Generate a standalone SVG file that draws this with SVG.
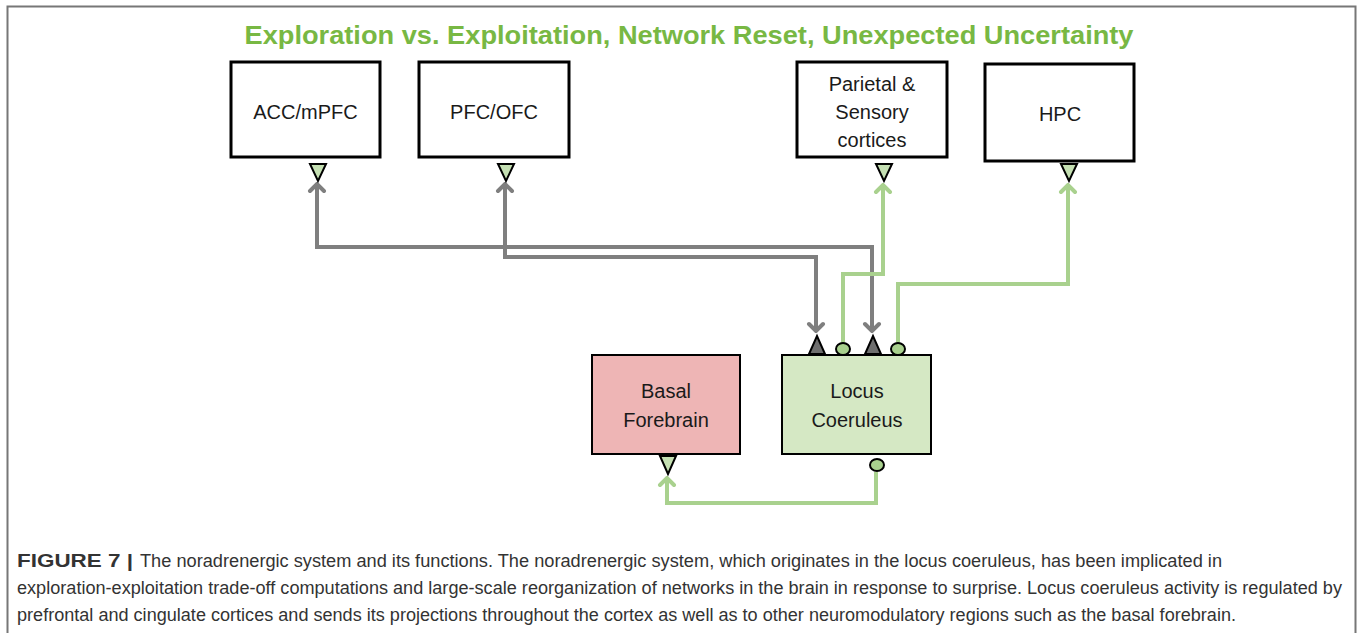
<svg xmlns="http://www.w3.org/2000/svg" width="1360" height="633" viewBox="0 0 1360 633">
<style>
.box{stroke:#000;stroke-width:3;fill:#fff}
.lbl{font-family:"Liberation Sans",Arial,sans-serif;font-size:20px;fill:#1a1a1a;text-anchor:middle}
.gl{fill:none;stroke:#7f7f7f;stroke-width:4}
.gr{fill:none;stroke:#a9d18e;stroke-width:4}
.tri{fill:#c5e0b3;stroke:#000;stroke-width:2;stroke-linejoin:miter}
.dtri{fill:#6e6e6e;stroke:#000;stroke-width:2}
.dot{fill:#a9d18e;stroke:#000;stroke-width:2}
.cap{font-family:"Liberation Sans",Arial,sans-serif;font-size:17.5px;fill:#333}
</style>
<defs>
<marker id="ag" markerUnits="userSpaceOnUse" viewBox="-10 -10 12 20" refX="0" refY="0" markerWidth="12" markerHeight="20" orient="auto-start-reverse">
<path d="M-7,-7 L0,0 L-7,7" fill="none" stroke="#7f7f7f" stroke-width="4" stroke-linecap="round" stroke-linejoin="miter"/>
</marker>
<marker id="an" markerUnits="userSpaceOnUse" viewBox="-10 -10 12 20" refX="0" refY="0" markerWidth="12" markerHeight="20" orient="auto-start-reverse">
<path d="M-7,-7 L0,0 L-7,7" fill="none" stroke="#a9d18e" stroke-width="4" stroke-linecap="round" stroke-linejoin="miter"/>
</marker>
</defs>
<rect width="1360" height="633" fill="#fff"/>
<path d="M7.5,640 V6.5 H1355.5 V640" fill="none" stroke="#777" stroke-width="2"/>
<text x="689" y="44" font-family="'Liberation Sans',Arial,sans-serif" font-weight="bold" font-size="25" fill="#78b843" text-anchor="middle" textLength="889" lengthAdjust="spacingAndGlyphs">Exploration vs. Exploitation, Network Reset, Unexpected Uncertainty</text>

<g id="connectors">
<path class="gl" d="M317,184 V247 H872 V331" marker-start="url(#ag)" marker-end="url(#ag)"/>
<path class="gl" d="M505,184 V257 H816 V331" marker-start="url(#ag)" marker-end="url(#ag)"/>
<path class="gr" d="M843,343 V274 H883 V185" marker-end="url(#an)"/>
<path class="gr" d="M898,343 V284 H1068 V185" marker-end="url(#an)"/>
<path class="gr" d="M876,472 V503 H667 V478" marker-end="url(#an)"/>
</g>

<g id="acc">
<rect class="box" x="231" y="62" width="149" height="95"/>
<text class="lbl" x="305.5" y="119">ACC/mPFC</text>
<path class="tri" d="M310,164 H326 L318,181 Z"/>
</g>
<g id="pfc">
<rect class="box" x="419" y="62" width="150" height="95"/>
<text class="lbl" x="494" y="119">PFC/OFC</text>
<path class="tri" d="M498,164 H514 L506,181 Z"/>
</g>
<g id="parietal">
<rect class="box" x="797" y="62" width="150" height="95"/>
<text class="lbl" x="872" y="91">Parietal &amp;</text>
<text class="lbl" x="872" y="119">Sensory</text>
<text class="lbl" x="872" y="147">cortices</text>
<path class="tri" d="M876,164 H892 L884,181 Z"/>
</g>
<g id="hpc">
<rect class="box" x="985" y="64" width="149" height="97"/>
<text class="lbl" x="1060" y="121">HPC</text>
<path class="tri" d="M1061,164 H1077 L1069,181 Z"/>
</g>
<g id="basal">
<rect x="592" y="355" width="148" height="99" fill="#eeb5b5" stroke="#000" stroke-width="2"/>
<text class="lbl" x="666" y="398">Basal</text>
<text class="lbl" x="666" y="427">Forebrain</text>
<path class="tri" d="M660,456 H676 L668,474 Z"/>
</g>
<g id="lc">
<rect x="782" y="355" width="149" height="99" fill="#d5e8c4" stroke="#000" stroke-width="2"/>
<text class="lbl" x="857" y="398">Locus</text>
<text class="lbl" x="857" y="427">Coeruleus</text>
<path class="dtri" d="M809,354 H825 L817,336 Z"/>
<path class="dtri" d="M865,354 H881 L873,336 Z"/>
<ellipse class="dot" cx="843" cy="349" rx="7" ry="6"/>
<ellipse class="dot" cx="898" cy="349" rx="7" ry="6"/>
<ellipse class="dot" cx="877" cy="465" rx="7" ry="6"/>
</g>

<g id="caption">
<text class="cap" x="17" y="567" font-weight="bold" fill="#222" textLength="116" lengthAdjust="spacingAndGlyphs">FIGURE 7 |</text>
<text class="cap" x="140" y="567" textLength="1082" lengthAdjust="spacingAndGlyphs">The noradrenergic system and its functions. The noradrenergic system, which originates in the locus coeruleus, has been implicated in</text>
<text class="cap" x="17" y="594" textLength="1325" lengthAdjust="spacingAndGlyphs">exploration-exploitation trade-off computations and large-scale reorganization of networks in the brain in response to surprise. Locus coeruleus activity is regulated by</text>
<text class="cap" x="17" y="621" textLength="1219" lengthAdjust="spacingAndGlyphs">prefrontal and cingulate cortices and sends its projections throughout the cortex as well as to other neuromodulatory regions such as the basal forebrain.</text>
</g>
</svg>
